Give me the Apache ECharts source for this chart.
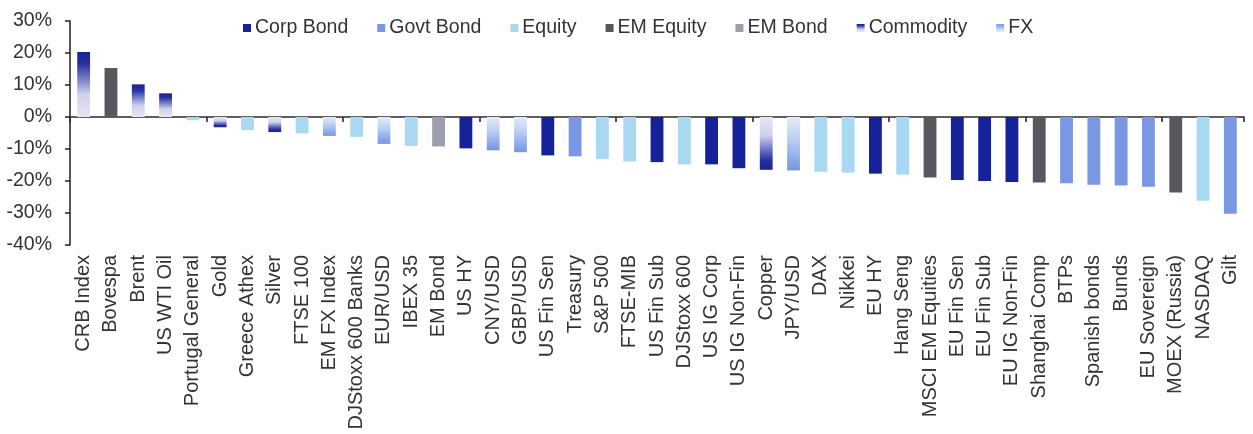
<!DOCTYPE html>
<html>
<head>
<meta charset="utf-8">
<title>Asset class returns</title>
<script src="https://cdn.jsdelivr.net/npm/echarts@6/dist/echarts.min.js"></script>
<style>
  html, body { margin: 0; padding: 0; background: #ffffff; }
  #chart { width: 1253px; height: 434px; }
</style>
</head>
<body>
<div id="chart"></div>
<script>
// Year-to-date returns (%) by market, sorted from best to worst
const categories = [
  'CRB Index', 'Bovespa', 'Brent', 'US WTI Oil', 'Portugal General', 'Gold',
  'Greece Athex', 'Silver', 'FTSE 100', 'EM FX Index', 'DJStoxx 600 Banks',
  'EUR/USD', 'IBEX 35', 'EM Bond', 'US HY', 'CNY/USD', 'GBP/USD', 'US Fin Sen',
  'Treasury', 'S&P 500', 'FTSE-MIB', 'US Fin Sub', 'DJStoxx 600', 'US IG Corp',
  'US IG Non-Fin', 'Copper', 'JPY/USD', 'DAX', 'Nikkei', 'EU HY', 'Hang Seng',
  'MSCI EM Equities', 'EU Fin Sen', 'EU Fin Sub', 'EU IG Non-Fin',
  'Shanghai Comp', 'BTPs', 'Spanish bonds', 'Bunds', 'EU Sovereign',
  'MOEX (Russia)', 'NASDAQ', 'Gilt'
];

const returns = [
  20.3, 15.3, 10.2, 7.4, -1.0, -3.2,
  -4.1, -4.7, -5.1, -5.9, -6.2,
  -8.4, -9.0, -9.2, -9.8, -10.4, -11.0, -12.0,
  -12.3, -13.1, -13.9, -14.1, -14.8, -14.8,
  -16.0, -16.5, -16.7, -17.1, -17.4, -17.7, -18.0,
  -18.9, -19.7, -20.0, -20.3,
  -20.5, -20.7, -21.2, -21.4, -21.8,
  -23.6, -26.2, -30.2
];

const assetClass = [
  'Commodity', 'EM Equity', 'Commodity', 'Commodity', 'Equity', 'Commodity',
  'Equity', 'Commodity', 'Equity', 'FX', 'Equity',
  'FX', 'Equity', 'EM Bond', 'Corp Bond', 'FX', 'FX', 'Corp Bond',
  'Govt Bond', 'Equity', 'Equity', 'Corp Bond', 'Equity', 'Corp Bond',
  'Corp Bond', 'Commodity', 'FX', 'Equity', 'Equity', 'Corp Bond', 'Equity',
  'EM Equity', 'Corp Bond', 'Corp Bond', 'Corp Bond',
  'EM Equity', 'Govt Bond', 'Govt Bond', 'Govt Bond', 'Govt Bond',
  'EM Equity', 'Equity', 'Govt Bond'
];

const classNames = ['Corp Bond', 'Govt Bond', 'Equity', 'EM Equity', 'EM Bond', 'Commodity', 'FX'];

// Fill colours per asset class; Commodity and FX fade towards the zero line
const solidColors = {
  'Corp Bond': '#16229a',
  'Govt Bond': '#7a97e3',
  'Equity': '#a9d8f2',
  'EM Equity': '#57575f',
  'EM Bond': '#9d9eab'
};

function fade(stops, towardsBottom) {
  // stops listed from the zero line outward
  const list = stops.map(s => ({
    offset: towardsBottom ? s[0] : 1 - s[0],
    color: s[1]
  }));
  list.sort((a, b) => a.offset - b.offset);
  return new echarts.graphic.LinearGradient(0, 0, 0, 1, list);
}

const commodityStops = [[0, '#e6e6f4'], [0.35, '#cfd1ec'], [0.62, '#6a73c4'], [0.82, '#27309c'], [1, '#1b2391']];
const fxStops = [[0, '#e4ebf8'], [0.4, '#bcd0f3'], [1, '#7396e2']];

function colorFor(cls, v) {
  if (cls === 'Commodity') return fade(commodityStops, v < 0);
  if (cls === 'FX') return fade(fxStops, v < 0);
  return solidColors[cls];
}

function legendColor(cls) {
  if (cls === 'Commodity') return fade(commodityStops, false);
  if (cls === 'FX') return fade(fxStops, false);
  return solidColors[cls];
}

const series = classNames.map(cls => ({
  name: cls,
  type: 'bar',
  stack: 'all',
  barWidth: '47%',
  xAxisIndex: 0,
  itemStyle: { color: legendColor(cls) },
  data: categories.map((c, i) => assetClass[i] === cls
    ? { value: returns[i], itemStyle: { color: colorFor(cls, returns[i]) } }
    : '-')
}));

const chart = echarts.init(document.getElementById('chart'), null, { renderer: 'canvas' });

const font = 'Liberation Sans, Arial, sans-serif';
const textColor = '#333333';
const axisColor = '#2b2b2b';

chart.setOption({
  animation: false,
  backgroundColor: '#ffffff',
  textStyle: { fontFamily: font },
  legend: {
    data: classNames,
    left: 238,
    top: 13,
    icon: 'rect',
    itemWidth: 8,
    itemHeight: 8,
    itemGap: 29,
    textStyle: { fontSize: 19.5, color: textColor, fontFamily: font, padding: [0, 0, 0, -1] }
  },
  grid: { left: 70, right: 9, top: 21, bottom: 189, containLabel: false },
  xAxis: [
    {
      type: 'category',
      data: categories,
      position: 'bottom',
      axisLine: { show: false, onZero: false },
      axisTick: { show: false },
      axisLabel: {
        rotate: 90,
        interval: 0,
        margin: 10,
        fontSize: 20,
        color: textColor,
        fontFamily: font
      },
      splitLine: { show: false }
    },
    {
      type: 'category',
      data: categories,
      position: 'bottom',
      axisLine: { show: true, onZero: true, lineStyle: { color: axisColor, width: 1.6 } },
      axisTick: { show: true, length: 5, lineStyle: { color: axisColor, width: 1.6 } },
      axisLabel: { show: false },
      splitLine: { show: false }
    }
  ],
  yAxis: {
    type: 'value',
    min: -40,
    max: 30,
    interval: 10,
    axisLine: { show: true, lineStyle: { color: axisColor, width: 1.6 } },
    axisTick: { show: true, length: 5, lineStyle: { color: axisColor, width: 1.6 } },
    axisLabel: {
      formatter: '{value}%',
      fontSize: 19.5,
      color: textColor,
      margin: 18,
      fontFamily: font
    },
    splitLine: { show: false }
  },
  series: series
});
</script>
</body>
</html>
